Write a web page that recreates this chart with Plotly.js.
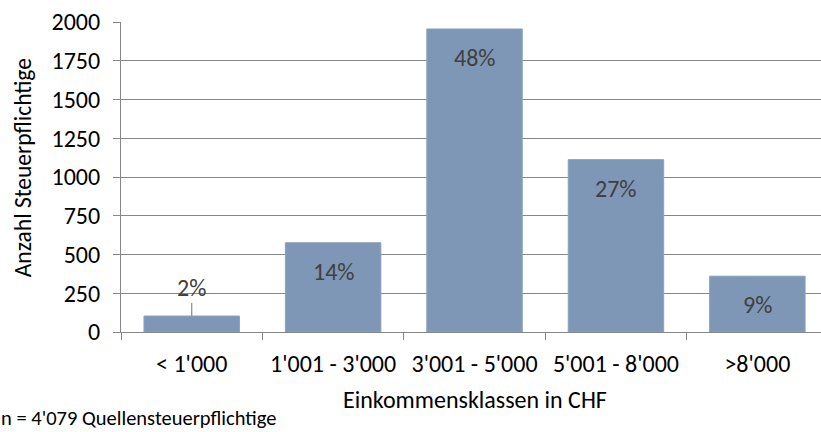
<!DOCTYPE html>
<html>
<head>
<meta charset="utf-8">
<script src="https://cdn.plot.ly/plotly-3.0.1.min.js"></script>
<style>html,body{margin:0;padding:0;background:#fff;}#chart{width:821px;height:432px;}</style>
</head>
<body>
<div id="chart"></div>
<script>
const categories = ["< 1'000", "1'001 - 3'000", "3'001 - 5'000", "5'001 - 8'000", ">8'000"];
const counts = [103, 576, 1955, 1112, 360];
const percentLabels = ["2%", "14%", "48%", "27%", "9%"];
const yTicks = [0, 250, 500, 750, 1000, 1250, 1500, 1750, 2000];
const xTitle = "Einkommensklassen in CHF";
const yTitle = "Anzahl Steuerpflichtige";
const footnote = "n = 4'079 Quellensteuerpflichtige";

const FONT = "Calibri, Carlito, 'Open Sans', sans-serif";
const GRID = "#878787";
const ML = 121, MT = 22, MB = 99.5, W = 821, H = 432;
const plotW = W - ML, plotH = H - MT - MB;
const px2x = px => (px - ML) / plotW;
const px2y = py => (H - MB - py) / plotH;

const annotations = categories.map((c, i) => {
  if (i === 0) {
    return {x: c, y: counts[i], xref: 'x', yref: 'y', text: percentLabels[i],
      showarrow: true, arrowhead: 0, arrowwidth: 1.2, arrowcolor: '#8c8c8c', ax: 0, ay: -29,
      standoff: 0, font: {family: FONT, size: 24, color: '#404040'}};
  }
  return {x: c, y: counts[i], xref: 'x', yref: 'y', text: percentLabels[i], showarrow: false,
    yanchor: 'top', yshift: -12, font: {family: FONT, size: 24, color: '#404040'}};
});
annotations.push({x: categories[2], xref: 'x', y: px2y(400), yref: 'paper', yanchor: 'middle',
  text: xTitle, showarrow: false, font: {family: FONT, size: 24, color: '#000'}});
annotations.push({x: px2x(23), xref: 'paper', xanchor: 'center', y: px2y(167.5), yref: 'paper',
  yanchor: 'middle', text: yTitle, textangle: -90, showarrow: false,
  font: {family: FONT, size: 23.5, color: '#000'}});
annotations.push({x: px2x(-1), xref: 'paper', xanchor: 'left', y: px2y(419), yref: 'paper',
  yanchor: 'middle', text: footnote, showarrow: false,
  font: {family: FONT, size: 20.5, color: '#000'}});

const trace = {
  type: 'bar', x: categories, y: counts, width: 0.675,
  marker: {color: '#7e97b6', line: {color: '#8aa1bd', width: 1}},
  hoverinfo: 'none'
};

const layout = {
  width: W, height: H,
  margin: {l: ML, r: 0, t: MT, b: MB, pad: 0},
  paper_bgcolor: '#fff', plot_bgcolor: '#fff',
  showlegend: false,
  font: {family: FONT, size: 24, color: '#000'},
  xaxis: {
    type: 'category', range: [-0.5, 4.45], tickson: 'boundaries',
    ticks: 'outside', ticklen: 7, tickcolor: GRID, tickwidth: 1,
    showline: true, linecolor: GRID, linewidth: 1, showgrid: false,
    ticklabelstandoff: 10,
    tickfont: {family: FONT, size: 24, color: '#000'}, fixedrange: true
  },
  yaxis: {
    range: [0, 2000], tickvals: yTicks, ticktext: yTicks.map(String),
    ticks: 'outside', ticklen: 7, tickcolor: GRID, tickwidth: 1,
    showline: true, linecolor: GRID, linewidth: 1,
    showgrid: true, gridcolor: GRID, gridwidth: 1, zeroline: false,
    ticklabelstandoff: 8,
    tickfont: {family: FONT, size: 24, color: '#000'},
    fixedrange: true
  },
  annotations: annotations
};

Plotly.newPlot('chart', [trace], layout, {displayModeBar: false, staticPlot: true});
</script>
</body>
</html>
